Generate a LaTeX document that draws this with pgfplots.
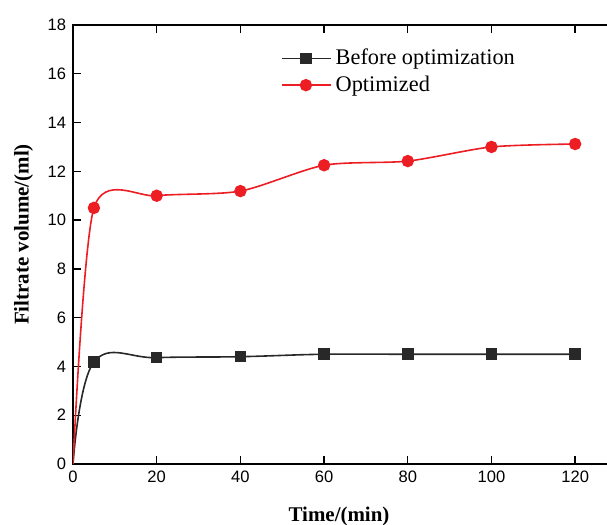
\documentclass[border=0pt]{standalone}
\usepackage{fontspec}
\setmainfont{Liberation Serif}
\setsansfont{Liberation Sans}
\usepackage{pgfplots}
\pgfplotsset{compat=1.18}
\definecolor{optred}{RGB}{236,30,36}
\definecolor{befgray}{RGB}{40,40,40}

\begin{document}
\begin{tikzpicture}
% picture frame: 607 x 525 px at 0.5bp per px
\path[use as bounding box] (-36.5bp,-30.5bp) rectangle (267bp,232bp);
\clip (-36.5bp,-30.5bp) rectangle (267bp,232bp);
\begin{axis}[
    scale only axis,
    width=272bp, height=219.5bp,
    xmin=0, xmax=130, ymin=0, ymax=18,
    xtick={0,20,...,120}, ytick={0,2,...,18},
    tick align=inside,
    major tick length=4bp,
    tick style={black, line width=0.7bp},
    axis line style={black, line width=0.8bp},
    /pgf/number format/assume math mode=true,
    tick label style={font=\sffamily\fontsize{8.3}{9}\selectfont},
    xlabel={Time/(min)},
    ylabel={Filtrate volume/(ml)},
    label style={font=\bfseries\fontsize{10.5}{12}\selectfont},
    x label style={at={(rel axis cs:0.489,0)}, anchor=center, yshift=-26bp},
    y label style={at={(rel axis cs:0,0.5)}, anchor=center, yshift=24.75bp,
        xshift=5bp},
    legend style={at={(rel axis cs:0.38,0.957)}, anchor=north west, draw=none,
        fill=none, font=\fontsize{11.2}{12.5}\selectfont, row sep=0bp,
        inner sep=0.5bp},
    legend cell align=left,
    legend image code/.code={
        \draw[#1, mark indices={2}]
            plot coordinates {(0bp,0bp) (12bp,0bp) (24.5bp,0bp)};
    },
]
\addplot[befgray, line width=0.8bp, smooth, tension=0.65, mark=square*,
    mark size=2.5bp, mark indices={2,...,8}] coordinates {
    (0,0) (5,4.18) (20,4.36) (40,4.40) (60,4.5) (80,4.5) (100,4.5) (120,4.5)
};
\addlegendentry{Before optimization}
\addplot[optred, line width=0.8bp, smooth, tension=0.45, mark=*,
    mark size=2.7bp, mark indices={2,...,8}] coordinates {
    (0,0) (5,10.5) (20,11.0) (40,11.19) (60,12.25) (80,12.42) (100,13.0) (120,13.12)
};
\addlegendentry{Optimized}
\end{axis}
\end{tikzpicture}
\end{document}
